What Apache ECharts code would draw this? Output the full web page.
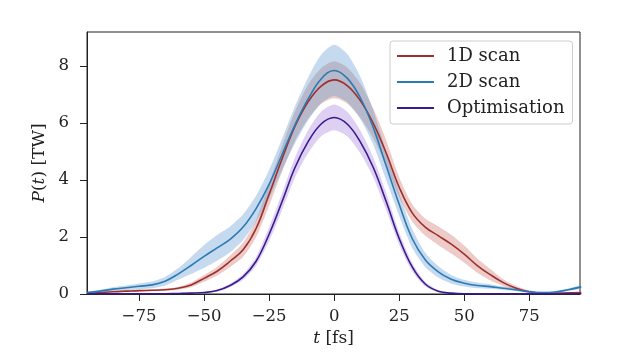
<!DOCTYPE html>
<html><head><meta charset="utf-8">
<script src="https://cdn.jsdelivr.net/npm/echarts@6/dist/echarts.min.js"></script>
<style>html,body{margin:0;padding:0;background:#fff}#c{width:640px;height:360px}</style>
</head><body><div id="c"></div>
<script>
const t = [-95,-90,-85,-80,-75,-70,-65,-60,-55,-50,-45,-40,-35,-30,-25,-20,-15,-10,-5,0,5,10,15,20,25,30,35,40,45,50,55,60,65,70,75,80,85,90,95];
const scan1D = [0.02,0.05,0.08,0.1,0.12,0.13,0.15,0.2,0.32,0.55,0.8,1.15,1.55,2.3,3.5,4.75,5.9,6.75,7.3,7.52,7.32,6.8,6.0,4.95,3.75,2.85,2.35,2.05,1.75,1.4,1.0,0.68,0.4,0.2,0.08,0.03,0.03,0.04,0.05];
const scan1DErr = [0.02,0.02,0.02,0.03,0.03,0.03,0.04,0.05,0.08,0.12,0.15,0.2,0.25,0.3,0.4,0.45,0.52,0.6,0.63,0.65,0.63,0.6,0.52,0.45,0.35,0.3,0.3,0.33,0.33,0.3,0.25,0.2,0.12,0.08,0.04,0.02,0.02,0.02,0.02];
const scan2D = [0.05,0.1,0.17,0.22,0.27,0.32,0.45,0.7,1.0,1.32,1.62,1.92,2.35,3.0,3.85,4.9,5.95,6.85,7.55,7.85,7.58,6.9,5.85,4.5,3.15,1.95,1.2,0.78,0.52,0.38,0.3,0.26,0.2,0.15,0.08,0.05,0.07,0.15,0.25];
const scan2DErr = [0.03,0.05,0.07,0.08,0.1,0.12,0.15,0.2,0.3,0.4,0.45,0.45,0.45,0.45,0.5,0.55,0.65,0.75,0.85,0.9,0.85,0.75,0.6,0.5,0.4,0.33,0.25,0.2,0.15,0.12,0.1,0.08,0.06,0.05,0.04,0.03,0.03,0.04,0.05];
const optim = [0.01,0.01,0.01,0.01,0.01,0.01,0.01,0.02,0.03,0.05,0.12,0.3,0.6,1.15,2.1,3.25,4.45,5.35,5.97,6.2,5.97,5.35,4.45,3.25,1.95,0.95,0.35,0.1,0.03,0.01,0.01,0.01,0.01,0.01,0.01,0.01,0.01,0.01,0.01];
const optimErr = [0.01,0.01,0.01,0.01,0.01,0.01,0.01,0.01,0.01,0.02,0.04,0.06,0.1,0.15,0.25,0.3,0.35,0.4,0.43,0.45,0.43,0.4,0.35,0.3,0.22,0.15,0.08,0.04,0.02,0.01,0.01,0.01,0.01,0.01,0.01,0.01,0.01,0.01,0.01];
const xTicks = [-75,-50,-25,0,25,50,75];
const yTicks = [0,2,4,6,8];

const FONT = 'DejaVu Serif';
const defs = [
  {name:'1D scan', mean:scan1D, err:scan1DErr, line:'#9e2f2b', band:'rgba(196,92,84,0.32)'},
  {name:'2D scan', mean:scan2D, err:scan2DErr, line:'#2a7ab4', band:'rgba(90,150,210,0.35)'},
  {name:'Optimisation', mean:optim, err:optimErr, line:'#3b1a8e', band:'rgba(150,110,215,0.32)'}
];
const series = [];
defs.forEach((d,i)=>{
  series.push({type:'custom', name:'band'+i, silent:true, clip:true, z:1, data:[[0,0]],
    renderItem:(params, api)=>{
      const up = t.map((x,k)=>api.coord([x, d.mean[k]+d.err[k]]));
      const lo = t.map((x,k)=>api.coord([x, Math.max(0, d.mean[k]-d.err[k])])).reverse();
      return {type:'polygon', shape:{points:up.concat(lo), smooth:0.25}, style:{fill:d.band}};
    }});
});
defs.forEach(d=>{
  series.push({type:'line', name:d.name, smooth:0.4, symbol:'none', color:d.line,
    data:t.map((x,k)=>[x, d.mean[k]]), lineStyle:{width:1.6, color:d.line}, z:3});
});
const minus = v => String(v).replace('-', '\u2212');
const chart = echarts.init(document.getElementById('c'));
chart.setOption({
  animation:false,
  backgroundColor:'#fff',
  grid:{left:87, right:60, top:32, bottom:66, show:true, borderColor:'#222', borderWidth:1, backgroundColor:'#fff'},
  legend:{data:defs.map(d=>d.name), orient:'vertical', left:390, top:41, padding:[5,8,6,7],
    borderColor:'#cccccc', borderWidth:1, borderRadius:3, backgroundColor:'#fff',
    icon:'rect', itemWidth:37, itemHeight:2, itemGap:6,
    textStyle:{fontFamily:FONT, fontSize:18, color:'#222', lineHeight:20, padding:[0,0,0,8]}},
  xAxis:{type:'value', min:-95, max:94.5, splitLine:{show:false},
    axisLine:{onZero:false, lineStyle:{color:'#222'}},
    axisTick:{customValues:xTicks, length:7, lineStyle:{color:'#222'}},
    axisLabel:{customValues:xTicks, formatter:minus, fontFamily:FONT, fontSize:16.5, color:'#222', margin:14},
    name:'{i|t} [fs]', nameLocation:'middle', nameGap:32,
    nameTextStyle:{fontFamily:FONT, fontSize:17, color:'#222', rich:{i:{fontFamily:FONT, fontStyle:'italic', fontSize:17, color:'#222'}}}},
  yAxis:{type:'value', min:0, max:9.2, splitLine:{show:false},
    axisLine:{show:true, onZero:false, lineStyle:{color:'#222'}},
    axisTick:{show:true, customValues:yTicks, length:7, lineStyle:{color:'#222'}},
    axisLabel:{customValues:yTicks, fontFamily:FONT, fontSize:16.5, color:'#222', margin:18},
    name:'{i|P}({i|t}) [TW]', nameLocation:'middle', nameGap:33, nameRotate:90,
    nameTextStyle:{fontFamily:FONT, fontSize:17, color:'#222', rich:{i:{fontFamily:FONT, fontStyle:'italic', fontSize:17, color:'#222'}}}},
  series:series
});
</script></body></html>
